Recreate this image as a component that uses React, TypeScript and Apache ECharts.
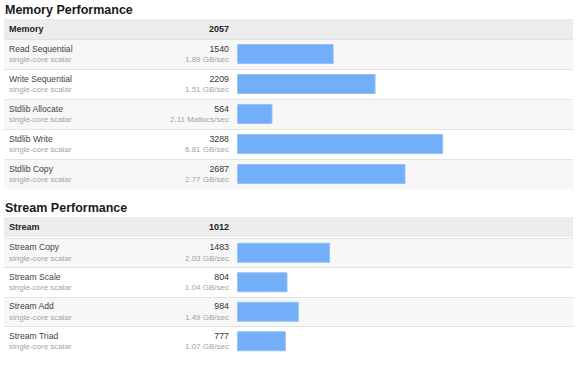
import React, { useEffect, useRef } from "react";
import * as echarts from "echarts";

const memTitle = "Memory Performance";
const memHeader = "Memory";
const memTotal = 2057;
const memCategories = ["Read Sequential", "Write Sequential", "Stdlib Allocate", "Stdlib Write", "Stdlib Copy"];
const memScores = [1540, 2209, 564, 3288, 2687];
const memRates = ["1.89 GB/sec", "1.51 GB/sec", "2.11 Mallocs/sec", "6.81 GB/sec", "2.77 GB/sec"];

const streamTitle = "Stream Performance";
const streamHeader = "Stream";
const streamTotal = 1012;
const streamCategories = ["Stream Copy", "Stream Scale", "Stream Add", "Stream Triad"];
const streamScores = [1483, 804, 984, 777];
const streamRates = ["2.03 GB/sec", "1.04 GB/sec", "1.49 GB/sec", "1.07 GB/sec"];

const subLabel = "single-core scalar";

const FONT = "'Liberation Sans', Arial, Helvetica, sans-serif";
const GRID_LEFT = 4;
const GRID_RIGHT = 7;
const X_MIN = -3720;
const X_MAX = 5360;

function labelFormatter(scores: number[], rates: string[]) {
  return (value: string, index: number) =>
    `{n|${value}}{v|${scores[index]}}\n{s|${subLabel}}{u|${rates[index]}}`;
}

const richStyle = {
  n: { fontFamily: FONT, fontSize: 8.6, color: "#444444", width: 150, align: "left", lineHeight: 11 },
  v: { fontFamily: FONT, fontSize: 8.8, color: "#333333", width: 70, align: "right", lineHeight: 11 },
  s: { fontFamily: FONT, fontSize: 8, color: "#a3a3a3", width: 150, align: "left", lineHeight: 11 },
  u: { fontFamily: FONT, fontSize: 8, color: "#a3a3a3", width: 70, align: "right", lineHeight: 11 },
};

function yAxisFor(gridIndex: number, cats: string[], scores: number[], rates: string[]) {
  return {
    type: "category",
    gridIndex,
    data: cats,
    inverse: true,
    axisLine: { show: false },
    axisTick: { show: false },
    axisLabel: {
      inside: true,
      margin: 5,
      formatter: labelFormatter(scores, rates),
      rich: richStyle,
    },
    splitLine: { show: true, showMaxLine: false, lineStyle: { color: "#e2e2e2", width: 1 } },
    splitArea: { show: true, areaStyle: { color: ["#f7f7f7", "#ffffff"] } },
    z: 1,
  };
}

function xAxisFor(gridIndex: number) {
  return {
    type: "value",
    gridIndex,
    min: X_MIN,
    max: X_MAX,
    show: false,
    splitLine: { show: false },
  };
}

function header(y: number, label: string, total: number) {
  return [
    {
      type: "rect",
      left: GRID_LEFT,
      top: y,
      shape: { width: 580 - GRID_LEFT - GRID_RIGHT, height: 20 },
      style: { fill: "#ececec" },
      z: 0,
    },
    {
      type: "text",
      x: 9,
      y: y + 10,
      style: { text: label, font: `bold 9px ${FONT}`, fill: "#222", verticalAlign: "middle", align: "left" },
      z: 5,
    },
    {
      type: "text",
      x: 229,
      y: y + 10,
      style: { text: String(total), font: `bold 9px ${FONT}`, fill: "#222", verticalAlign: "middle", align: "right" },
      z: 5,
    },
  ];
}

const barStyle = { color: "#73aef9", borderColor: "#93c0f6", borderWidth: 1 };
const titleStyle = { fontFamily: FONT, fontSize: 12.5, fontWeight: "bold", color: "#1a1a1a" };

export default function App() {
  const ref = useRef<HTMLDivElement>(null);
  useEffect(() => {
    if (!ref.current) return;
    const chart = echarts.init(ref.current, undefined, { renderer: "svg" });
    chart.setOption({
      animation: false,
      backgroundColor: "#ffffff",
      title: [
        { text: memTitle, left: 5, top: 3, padding: 0, textStyle: titleStyle },
        { text: streamTitle, left: 5, top: 201, padding: 0, textStyle: titleStyle },
      ],
      grid: [
        { left: GRID_LEFT, right: GRID_RIGHT, top: 39, height: 150 },
        { left: GRID_LEFT, right: GRID_RIGHT, top: 238, height: 118 },
      ],
      xAxis: [xAxisFor(0), xAxisFor(1)],
      yAxis: [
        yAxisFor(0, memCategories, memScores, memRates),
        yAxisFor(1, streamCategories, streamScores, streamRates),
      ],
      series: [
        { type: "bar", xAxisIndex: 0, yAxisIndex: 0, data: memScores, barWidth: 20, itemStyle: barStyle },
        { type: "bar", xAxisIndex: 1, yAxisIndex: 1, data: streamScores, barWidth: 20, itemStyle: barStyle },
      ],
      graphic: [...header(19, memHeader, memTotal), ...header(217, streamHeader, streamTotal)],
    });
    return () => chart.dispose();
  }, []);
  return <div ref={ref} style={{ position: "fixed", left: 0, top: 0, width: 580, height: 366 }} />;
}
